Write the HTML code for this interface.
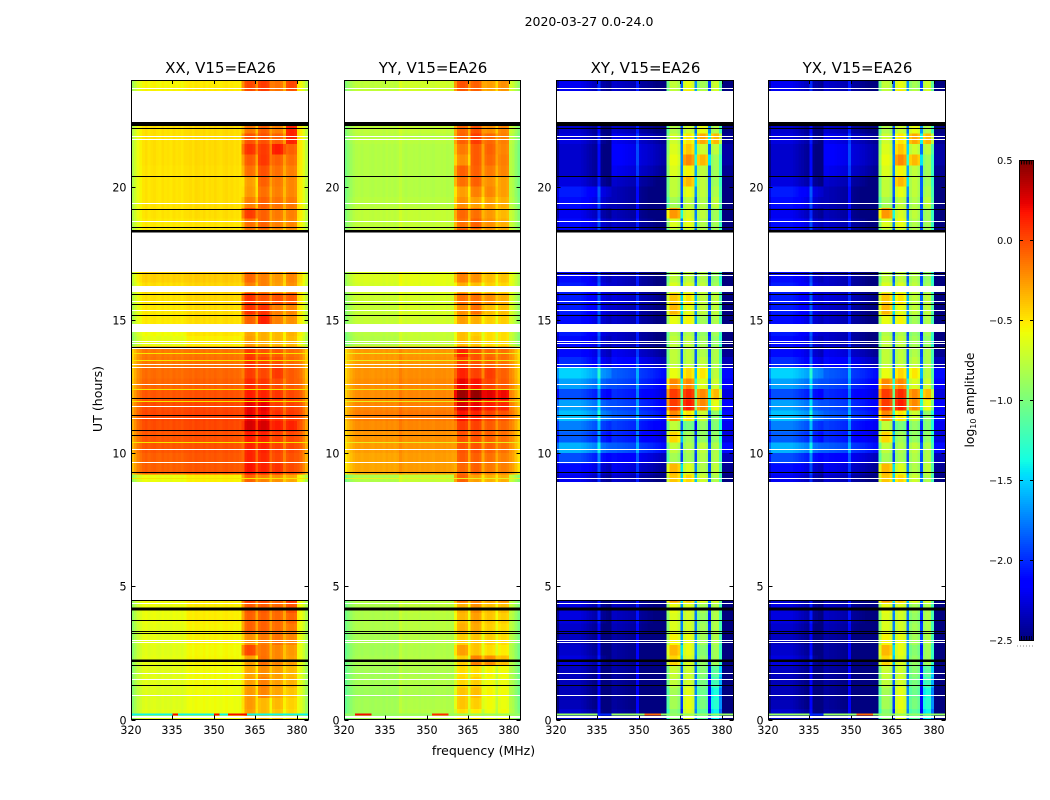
<!DOCTYPE html>
<html lang="en">
<head>
<meta charset="utf-8">
<title>2020-03-27 amplitude waterfall</title>
<style>
html,body{margin:0;padding:0;background:#fff;width:1050px;height:800px;overflow:hidden}
svg{display:block}
text{font-family:"DejaVu Sans","Liberation Sans",sans-serif;fill:#000}
</style>
</head>
<body>
<svg id="figure" xmlns="http://www.w3.org/2000/svg" width="1050" height="800" viewBox="0 0 1050 800">
  <rect x="0" y="0" width="1050" height="800" fill="#fff"/>
  <text x="589" y="26" font-size="12.5" text-anchor="middle">2020-03-27 0.0-24.0</text>
  <text x="483.5" y="755" font-size="12.5" text-anchor="middle">frequency (MHz)</text>
  <text x="102" y="399" font-size="12.6" text-anchor="middle" transform="rotate(-90 102 399)">UT (hours)</text>
  <text x="974" y="400" font-size="12.3" text-anchor="middle" transform="rotate(-90 974 400)">log<tspan font-size="8" dy="2">10</tspan><tspan dy="-2"> amplitude</tspan></text>
</svg>
<script>
// ---- data: axis ticks ----
const freqTicks = [320, 335, 350, 365, 380];
const utTicks = [0, 5, 10, 15, 20];
const colorTicks = [0.5, 0, -0.5, -1, -1.5, -2, -2.5];
const panelTitles = ["XX, V15=EA26", "YY, V15=EA26", "XY, V15=EA26", "YX, V15=EA26"];

// ---- data: start hour of each 0.4 h time band holding data ----
const rowStartUT = [0,.4,.8,1.2,1.6,2,2.4,2.8,3.2,3.6,4,4.4,
  8.8,9.2,9.6,10,10.4,10.8,11.2,11.6,12,12.4,12.8,13.2,13.6,14,14.4,14.8,15.2,15.6,16,16.4,
  18,18.4,18.8,19.2,19.6,20,20.4,20.8,21.2,21.6,22,
  23.2,23.6];

// block each 1 MHz channel reads from: 0 flat-low, 1 flat-high, 2-5 the four bright sub-bands
const channelBlock = [0,0,0,0,0,0,0,0,0,0,0,0,0,0,0,0,0,0,0,0,
  1,1,1,1,1,1,1,1,1,1,1,1,1,1,1,1,1,1,1,1,
  2,2,2,2,2,2,3,3,3,3,3,4,4,4,4,4,5,5,5,5,1,1,1,1];

// ---- data: log10 amplitude per time band, columns [flat-low, flat-high, A, B, C, D] ----
const xxRows = [
[-.64,-.59,-.30,-.38,-.42,-.48],[-.65,-.59,-.28,-.38,-.38,-.46],[-.65,-.59,-.28,-.22,-.32,-.42],[-.64,-.58,-.30,-.20,-.30,-.36],
[-.64,-.58,-.32,-.24,-.30,-.38],[-.62,-.56,-.30,-.15,-.22,-.30],[-.64,-.57,-.02,-.16,-.22,-.28],[-.62,-.55,-.25,-.18,-.16,-.22],
[-.62,-.55,-.10,-.10,-.14,-.18],[-.60,-.53,-.10,-.10,-.13,-.12],[-.60,-.53,-.08,-.08,-.12,-.06],[-.58,-.52,.03,0,-.10,.05],
[-.60,-.54,-.10,-.20,-.25,-.32],[-.08,-.05,.15,.10,.05,-.03],[-.08,-.05,.10,.08,-.02,-.05],[-.05,-.03,.10,.10,0,-.02],
[-.05,-.03,.12,.10,0,-.02],[-.02,0,.25,.25,.12,.10],[0,.02,.20,.18,.06,.03],[-.02,0,.20,.20,.02,0],
[-.05,-.03,.12,.10,.04,-.02],[-.10,-.08,.08,.04,-.03,-.08],[-.12,-.10,.02,-.02,.03,-.08],[-.15,-.13,.05,0,-.04,-.12],
[-.16,-.14,.03,-.05,-.08,-.14],[-.62,-.54,-.30,-.35,-.38,-.38],[-.58,-.50,-.32,-.35,-.38,-.36],[-.52,-.48,-.10,.10,-.20,-.25],
[-.52,-.48,.05,.05,-.20,-.22],[-.50,-.46,.05,-.05,-.05,-.08],[-.48,-.45,-.20,-.20,-.30,-.25],[-.44,-.42,-.12,-.20,-.28,-.22],
[-.52,-.50,-.20,-.20,-.30,-.30],[-.52,-.50,-.15,-.10,-.20,-.22],[-.50,-.48,.02,-.10,-.18,-.20],[-.50,-.48,-.20,-.10,-.16,-.18],
[-.50,-.48,-.28,-.15,-.20,-.22],[-.50,-.48,-.30,-.10,-.18,-.22],[-.50,-.48,-.15,-.05,-.15,-.20],[-.49,-.47,-.08,.03,-.10,-.15],
[-.49,-.47,.05,.02,.12,-.10],[-.49,-.47,-.05,-.05,-.10,.10],[-.49,-.47,-.18,-.10,-.20,.10],
[-.54,-.50,-.05,0,-.15,-.10],[-.56,-.52,-.02,.02,-.16,-.02]];

const yyRows = [
[-.86,-.80,-.50,-.55,-.62,-.60],[-.86,-.81,-.42,-.45,-.60,-.62],[-.88,-.83,-.42,-.40,-.58,-.60],[-.86,-.81,-.48,-.45,-.60,-.62],
[-.86,-.82,-.50,-.50,-.58,-.60],[-.84,-.80,-.45,-.20,-.25,-.40],[-.86,-.81,-.30,-.42,-.50,-.55],[-.84,-.79,-.45,-.42,-.45,-.50],
[-.82,-.78,-.35,-.33,-.45,-.50],[-.82,-.78,-.38,-.30,-.42,-.45],[-.82,-.76,-.35,-.25,-.40,-.40],[-.81,-.76,-.15,-.20,-.30,-.25],
[-.81,-.74,-.10,-.30,-.35,-.35],[-.30,-.27,-.12,-.10,-.18,-.20],[-.30,-.27,-.08,-.10,-.15,-.20],[-.27,-.25,-.06,-.05,-.10,-.15],
[-.25,-.23,-.05,-.05,-.10,-.15],[-.22,-.20,.02,0,-.08,-.12],[-.17,-.15,.15,.10,0,-.05],[-.20,-.18,.25,.20,.12,.08],
[-.22,-.20,.40,.42,.22,.18],[-.22,-.20,.20,.15,0,-.08],[-.24,-.22,.10,0,.02,-.10],[-.26,-.24,.02,-.05,-.10,-.15],
[-.26,-.25,.10,-.05,-.12,-.15],[-.80,-.74,-.40,-.42,-.50,-.50],[-.78,-.73,-.40,-.45,-.50,-.50],[-.74,-.70,-.30,-.35,-.45,-.45],
[-.74,-.68,-.25,-.15,-.40,-.40],[-.72,-.68,-.15,-.15,-.25,-.35],[-.68,-.63,-.35,-.40,-.45,-.48],[-.66,-.62,-.20,-.25,-.40,-.42],
[-.73,-.70,-.10,-.25,-.30,-.35],[-.76,-.74,-.15,-.10,-.25,-.35],[-.76,-.74,-.12,-.15,-.28,-.38],[-.78,-.78,-.25,-.30,-.30,-.35],
[-.80,-.80,-.30,-.20,-.22,-.30],[-.80,-.80,-.15,-.10,-.25,-.30],[-.80,-.80,-.10,-.10,-.18,-.22],[-.80,-.80,-.25,-.08,-.12,-.20],
[-.80,-.80,-.18,-.08,-.10,-.22],[-.78,-.78,-.10,.02,-.12,-.20],[-.76,-.74,-.12,-.05,-.25,-.22],
[-.74,-.70,-.10,-.10,-.35,-.30],[-.76,-.70,-.05,-.10,-.30,-.25]];

const crossRows = [
[-2.35,-2.40,-1.05,-.75,-1.20,-1.50],[-2.40,-2.42,-.95,-.70,-1.10,-1.40],[-2.40,-2.42,-.95,-.72,-1.15,-1.45],[-2.40,-2.42,-.85,-.78,-1.10,-1.30],
[-2.38,-2.40,-.82,-.80,-1.05,-1.20],[-2.30,-2.40,-.55,-.75,-1.00,-.95],[-2.35,-2.40,-.45,-.70,-1.05,-.95],[-2.38,-2.40,-.65,-.70,-.95,-.90],
[-2.35,-2.35,-.75,-.78,-.95,-.90],[-2.30,-2.32,-.75,-.78,-1.00,-.90],[-2.30,-2.32,-.70,-.75,-.95,-.90],[-2.35,-2.40,-.35,-.50,-.70,-.75],
[-2.25,-2.30,-.50,-.55,-.80,-.90],[-2.15,-2.20,-.45,-.75,-.90,-.85],[-1.95,-2.10,-.95,-.95,-.90,-.90],[-1.65,-1.85,-.85,-.90,-.85,-.90],
[-1.90,-2.00,-.55,-.95,-1.00,-1.00],[-1.80,-1.95,-.85,-1.10,-1.00,-1.05],[-1.60,-1.85,-.30,-.60,-.80,-1.00],[-1.70,-1.90,-.05,.05,-.30,-.70],
[-1.95,-2.00,-.05,0,-.30,-.45],[-1.70,-1.90,-.30,-.30,-.75,-.80],[-1.55,-1.85,-.70,-.55,-.60,-.85],[-2.05,-2.10,-.85,-.85,-.85,-.90],
[-2.15,-2.20,-.85,-.85,-.90,-.90],[-2.15,-2.30,-.85,-.85,-.95,-1.00],[-2.10,-2.30,-.90,-.90,-1.00,-.95],[-2.15,-2.30,-.70,-.65,-.95,-.90],
[-2.10,-2.30,-.45,-.70,-.85,-.85],[-2.10,-2.25,-.50,-.60,-.85,-.85],[-2.10,-2.30,-.75,-.75,-.85,-.95],[-2.15,-2.30,-.85,-.85,-.90,-1.00],
[-2.20,-2.30,-.95,-.85,-.90,-.95],[-2.15,-2.30,-.75,-.70,-.90,-.95],[-2.25,-2.35,-.35,-.75,-.85,-.95],[-2.15,-2.35,-.95,-.85,-.90,-.85],
[-2.10,-2.35,-.85,-.70,-.85,-.90],[-2.30,-2.30,-.85,-.45,-.85,-.95],[-2.35,-2.20,-.75,-.65,-.85,-.95],[-2.35,-2.15,-.70,-.30,-.45,-.95],
[-2.35,-2.15,-.75,-.50,-.80,-.85],[-2.30,-2.20,-.80,-.60,-.40,-.45],[-2.35,-2.30,-.90,-.80,-.70,-.90],
[-2.25,-2.30,-.85,-.55,-.80,-.75],[-2.25,-2.30,-.85,-.70,-.95,-.80]];

// ---- data: per-channel bandpass offsets relative to the time band level ----
const xxChannelOffset = [-.30,-.20,-.10,-.05,0,.02,-.01,.01,.02,0,-.01,.02,0,.01,-.01,.02,0,.01,-.01,.02,
  0,.01,-.01,.02,.01,0,.02,-.01,.01,0,.02,0,-.01,.01,.02,0,.01,-.01,0,-.02,
  -.20,0,.03,.03,0,-.20,0,.03,.03,0,-.18,0,.03,.03,0,-.16,0,.03,.03,0,0,-.05,-.15,-.28];
const yyChannelOffset = [-.22,-.14,-.08,-.03,0,.01,-.01,.01,.01,0,-.01,.01,0,.01,-.01,.02,0,.01,-.01,.01,
  .05,.01,-.01,.01,.01,0,.01,-.01,.01,0,.01,0,-.01,.01,.01,0,.01,-.01,0,-.02,
  -.20,0,.03,.03,0,-.22,0,.03,.03,0,-.20,0,.03,.03,0,-.16,0,.03,.03,0,.02,-.02,-.12,-.22];
const crossChannelOffset = [-.15,.05,.05,.05,.05,.05,.05,.05,.05,.03,.01,-.02,-.04,-.07,-.09,.24,-.13,-.15,-.18,-.20,
  0,0,-.02,-.02,-.03,-.04,-.05,-.06,-.07,.24,-.10,-.12,-.13,-.15,-.16,-.18,-.2,-.22,-.24,-.25,
  -.2,.1,.1,.1,.02,-1.0,.02,.1,.1,.02,-1.0,.02,.1,.1,.02,-1.0,.02,.1,.1,-.3,-.25,-.25,-.25,-.25];

// ---- data: flagged times (UT hours) ----
const blankSpans = [[22.42,23.56],[16.79,18.27],[16.04,16.27],[14.54,14.80],[4.47,8.92]];
const thickFlagSpans = [[22.27,22.42],[18.27,18.37],[4.10,4.20],[2.16,2.26]];
const blackFlags = [22.19,20.38,19.14,18.47,16.74,15.96,15.58,15.17,13.97,12.05,11.41,10.85,10.66,9.28,4.47,3.72,3.29,3.22,2.04,1.28];
const whiteFlags = [23.68,23.58,21.87,21.77,19.37,18.68,15.69,15.34,14.84,14.20,14.12,13.92,13.32,13.22,12.58,11.74,11.30,10.14,9.64,4.36,2.98,2.90,1.73,1.51,.91,.13,.06];
const coYellowFlags = [13.74,13.48,12.39,11.95,10.40,9.05];
const crossWhiteFlags = [16.68,9.05];

// ---- data: narrow interference strip near 0.18 h: start MHz, end MHz, level ----
const rfiUT = 0.18;
const xxRfiStart = [320,335,350,355];
const xxRfiEnd = [384,337,352,362];
const xxRfiLevel = [-1.4,.2,.2,.2];
const yyRfiStart = [320,324,352];
const yyRfiEnd = [384,330,358];
const yyRfiLevel = [-.9,.2,.1];
const crossRfiStart = [320,335,340,352];
const crossRfiEnd = [384,340,352,358];
const crossRfiLevel = [-.9,-2.0,-.9,-.1];

const panelRows = [xxRows, yyRows, crossRows, crossRows];
const panelOffsets = [xxChannelOffset, yyChannelOffset, crossChannelOffset, crossChannelOffset];
const panelRfiStart = [xxRfiStart, yyRfiStart, crossRfiStart, crossRfiStart];
const panelRfiEnd = [xxRfiEnd, yyRfiEnd, crossRfiEnd, crossRfiEnd];
const panelRfiLevel = [xxRfiLevel, yyRfiLevel, crossRfiLevel, crossRfiLevel];
const panelSlugs = ["xx", "yy", "xy", "yx"];

// ---- layout ----
const SVGNS = "http://www.w3.org/2000/svg";
const svg = document.getElementById("figure");
const panelLeft = [131, 344, 556, 768];
const panelWidthPx = [177, 176, 177, 177];
const plotTop = 80, plotBottom = 719.5;
const cbLeft = 1019, cbRight = 1034, cbTop = 160, cbBottom = 640;
const vMin = -2.5, vMax = 0.5;

function clip(v){return Math.max(0, Math.min(1, v));}
function ramp(t, pts){
  for (let i = 1; i < pts.length; i++) {
    if (t <= pts[i][0]) {
      const a = pts[i - 1], b = pts[i];
      return a[1] + (t - a[0]) / (b[0] - a[0]) * (b[1] - a[1]);
    }
  }
  return pts[pts.length - 1][1];
}
const jetRed = [[0,0],[.35,0],[.66,1],[.89,1],[1,.5]];
const jetGreen = [[0,0],[.125,0],[.375,1],[.64,1],[.91,0],[1,0]];
const jetBlue = [[0,.5],[.11,1],[.34,1],[.65,0],[1,0]];
function jet(v){
  const t = clip((v - vMin) / (vMax - vMin));
  return "rgb(" + Math.round(ramp(t, jetRed) * 255) + "," + Math.round(ramp(t, jetGreen) * 255) + "," + Math.round(ramp(t, jetBlue) * 255) + ")";
}
function yScale(ut){return plotBottom - (ut / 24) * (plotBottom - plotTop);}
function xScale(p, mhz){return panelLeft[p] + ((mhz - 320) / 64) * panelWidthPx[p];}
function make(tag, attrs, parent){
  const e = document.createElementNS(SVGNS, tag);
  for (const k in attrs) e.setAttribute(k, attrs[k]);
  parent.appendChild(e);
  return e;
}
function band(parent, p, fromUT, toUT, color){
  const yTop = yScale(toUT), yBot = yScale(fromUT);
  return make("rect", {x: panelLeft[p], y: yTop, width: panelWidthPx[p], height: yBot - yTop, fill: color, "shape-rendering": "crispEdges"}, parent);
}
function flagLine(parent, p, ut, color){
  return make("rect", {x: panelLeft[p], y: Math.floor(yScale(ut)), width: panelWidthPx[p], height: 1, fill: color, "shape-rendering": "crispEdges"}, parent);
}

panelTitles.forEach(function(title, p){
  const slug = panelSlugs[p];
  const g = make("g", {}, svg);
  
  

  const bg = make("rect", {x: panelLeft[p], y: plotTop, width: panelWidthPx[p], height: plotBottom - plotTop, fill: "#fff"}, g);
  
  

  // heatmap cells
  const rows = panelRows[p], off = panelOffsets[p];
  rowStartUT.forEach(function(ut, r){
    channelBlock.forEach(function(block, c){
      const value = rows[r][block] + off[c];
      const x0 = xScale(p, 320 + c), x1 = xScale(p, 321 + c);
      const cell = make("rect", {x: x0, y: yScale(ut + 0.4), width: x1 - x0, height: yScale(ut) - yScale(ut + 0.4), fill: jet(value), "shape-rendering": "crispEdges"}, g);
      
      
    });
  });

  // interference strip
  panelRfiLevel[p].forEach(function(level, i){
    const x0 = xScale(p, panelRfiStart[p][i]), x1 = xScale(p, panelRfiEnd[p][i]);
    const strip = make("rect", {x: x0, y: yScale(rfiUT) - 1, width: x1 - x0, height: 1.6, fill: jet(level), "shape-rendering": "crispEdges"}, g);
    
    
  });

  // flagged rows
  blankSpans.forEach(function(s){
    const b = band(g, p, s[0], s[1], "#fff");
    
    
  });
  if (p < 2) {
    coYellowFlags.forEach(function(ut){
      const b = flagLine(g, p, ut, p === 0 ? "#f5e800" : "#e8f020");
      
      
    });
  } else {
    crossWhiteFlags.forEach(function(ut){
      const b = flagLine(g, p, ut, "#fff");
      
      
    });
  }
  whiteFlags.forEach(function(ut){
    const b = flagLine(g, p, ut, "#fff");
    
    
  });
  blackFlags.forEach(function(ut){
    const b = flagLine(g, p, ut, "#000");
    
    
  });
  thickFlagSpans.forEach(function(s){
    const b = band(g, p, s[0], s[1], "#000");
    
    
  });

  // frame
  const frame = make("rect", {x: panelLeft[p] + 0.5, y: plotTop + 0.5, width: panelWidthPx[p], height: plotBottom - plotTop - 0.5, fill: "none", stroke: "#000", "stroke-width": 1}, g);
  
  

  // x ticks
  freqTicks.forEach(function(f){
    const x = Math.round(xScale(p, f)) + 0.5;
    const t1 = make("line", {x1: x, x2: x, y1: plotBottom, y2: plotBottom - 4, stroke: "#000"}, g);
    
    
    const t2 = make("line", {x1: x, x2: x, y1: plotTop, y2: plotTop + 4, stroke: "#000"}, g);
    
    
    const lab = make("text", {x: x - 0.5, y: 734, "font-size": 11.1, "text-anchor": "middle"}, g);
    lab.textContent = String(f);
    
    
  });

  // y ticks
  const xL = panelLeft[p] + 0.5, xR = xL + panelWidthPx[p];
  utTicks.forEach(function(ut){
    const y = Math.round(yScale(ut)) + 0.5;
    const t1 = make("line", {x1: xL, x2: xL + 4, y1: y, y2: y, stroke: "#000"}, g);
    
    
    const t2 = make("line", {x1: xR, x2: xR - 4, y1: y, y2: y, stroke: "#000"}, g);
    
    
    const lab = make("text", {x: xL - 5, y: y + 4, "font-size": 11.1, "text-anchor": "end"}, g);
    lab.textContent = String(ut);
    
    
  });

  const ttl = make("text", {x: panelLeft[p] + panelWidthPx[p] / 2 + 1, y: 73, "font-size": 15, "text-anchor": "middle"}, g);
  ttl.textContent = title;
  
  
});

// ---- colorbar ----
const cb = make("g", {}, svg);


for (let i = 0; i < 240; i++) {
  const v = vMax - (i + 0.5) / 240 * (vMax - vMin);
  const seg = make("rect", {x: cbLeft, y: cbTop + i * 2, width: cbRight - cbLeft, height: 2, fill: jet(v), "shape-rendering": "crispEdges"}, cb);
  
  
}
const cbFrame = make("rect", {x: cbLeft + 0.5, y: cbTop + 0.5, width: cbRight - cbLeft - 1, height: cbBottom - cbTop, fill: "none", stroke: "#000"}, cb);


const cbCombTop = make("line", {x1: cbLeft + 2, x2: cbRight - 2, y1: cbTop + 2.5, y2: cbTop + 2.5, stroke: "#000", "stroke-width": 4, "stroke-dasharray": "1 1.6"}, cb);


const cbCombBottom = make("line", {x1: cbLeft + 2, x2: cbRight - 2, y1: cbBottom - 2, y2: cbBottom - 2, stroke: "#000", "stroke-width": 4, "stroke-dasharray": "1 1.6"}, cb);


colorTicks.forEach(function(v){
  const y = Math.round(cbTop + (vMax - v) / (vMax - vMin) * (cbBottom - cbTop)) + 0.5;
  const t1 = make("line", {x1: cbLeft, x2: cbLeft + 4, y1: y, y2: y, stroke: "#000"}, cb);
  
  
  const t2 = make("line", {x1: cbRight, x2: cbRight - 4, y1: y, y2: y, stroke: "#000"}, cb);
  
  
  const lab = make("text", {x: 1012.5, y: y + 3.5, "font-size": 9.7, "text-anchor": "end"}, cb);
  lab.textContent = (v < 0 ? "\u2212" : "") + Math.abs(v).toFixed(1);
  
  
});
const cbDots = make("line", {x1: 1017, x2: 1034, y1: 646, y2: 646, stroke: "#888", "stroke-width": 1, "stroke-dasharray": "1 2"}, cb);


</script>
</body>
</html>
